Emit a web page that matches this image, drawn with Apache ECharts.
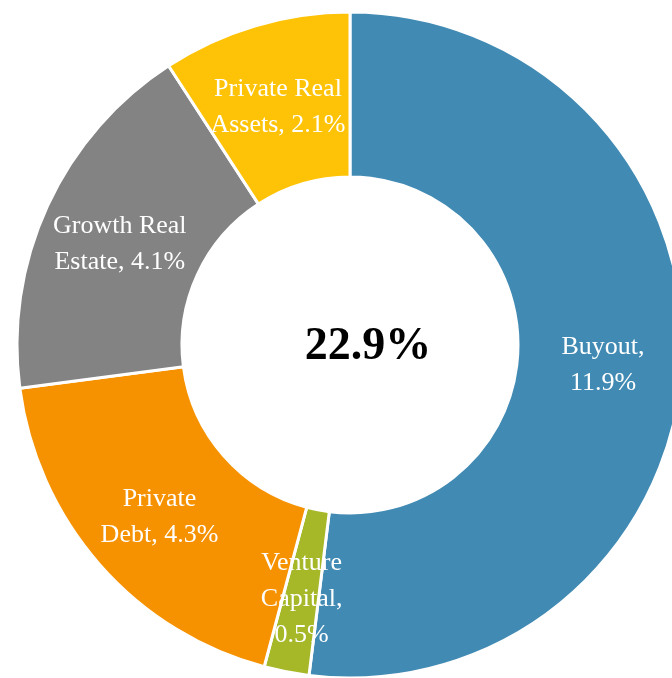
<!DOCTYPE html>
<html>
<head>
<meta charset="utf-8">
<script src="https://cdn.jsdelivr.net/npm/echarts@6/dist/echarts.min.js"></script>
<style>html,body{margin:0;padding:0;background:#fff;}#c{width:672px;height:678px;}</style>
</head>
<body>
<div id="c"></div>
<script>
const categories = ["Buyout", "Venture\nCapital", "Private\nDebt", "Growth Real\nEstate", "Private Real\nAssets"];
const values = [11.9, 0.5, 4.3, 4.1, 2.1];
const colors = ["#418AB3", "#A6B727", "#F69200", "#838383", "#FEC306"];
const totalLabel = "22.9%";

const chart = echarts.init(document.getElementById('c'));
chart.setOption({
  backgroundColor: '#fff',
  animation: false,
  graphic: [{
    type: 'text', x: 368, y: 347,
    style: { text: totalLabel, font: 'bold 46px "Liberation Serif"', fill: '#000', align: 'center', verticalAlign: 'middle' }
  }],
  series: [{
    type: 'pie',
    center: [350, 345],
    radius: [168, 333],
    startAngle: 90,
    clockwise: true,
    avoidLabelOverlap: false,
    itemStyle: { borderColor: '#fff', borderWidth: 3 },
    label: {
      show: true, position: 'inside', color: '#fff',
      fontFamily: 'Liberation Serif', fontSize: 26, lineHeight: 36,
      formatter: p => {
        const n = p.name;
        if (n === "Buyout") return "Buyout,\n" + p.value + "%";
        if (n.startsWith("Venture")) return "Venture\nCapital,\n" + p.value + "%";
        return n + ", " + p.value + "%";
      }
    },
    labelLayout: { dy: 5 },
    labelLine: { show: false },
    data: categories.map((c, i) => ({ name: c, value: values[i], itemStyle: { color: colors[i] } }))
  }]
});
</script>
</body>
</html>
